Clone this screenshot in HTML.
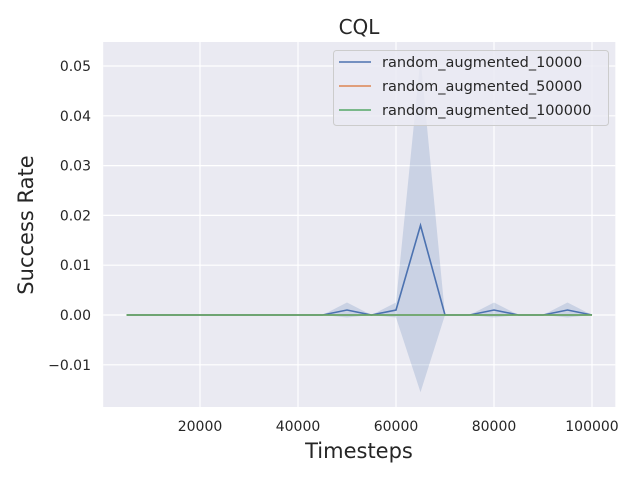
<!DOCTYPE html>
<html><head><meta charset="utf-8"><style>
body{margin:0;background:#fff;font-family:"DejaVu Sans","Liberation Sans",sans-serif}
svg text{font-family:"DejaVu Sans","Liberation Sans",sans-serif}
</style></head><body>
<svg id="chart" width="640" height="480" xmlns="http://www.w3.org/2000/svg">
<rect x="0" y="0" width="640" height="480" fill="#fff"/>
<rect x="103.2" y="42" width="512.1" height="365" fill="#eaeaf2"/>
<g id="grid"></g>
<g id="series"></g>
<g id="ticks"></g>
<text x="359" y="34" font-size="20" text-anchor="middle" fill="#262626">CQL</text>
<text x="359" y="458" font-size="21" text-anchor="middle" fill="#262626">Timesteps</text>
<text x="33" y="225" font-size="21" text-anchor="middle" fill="#262626" transform="rotate(-90 33 225)">Success Rate</text>
<g>
<rect x="333.5" y="50.5" width="275" height="75" rx="3" fill="#eaeaf2" fill-opacity="0.8" stroke="#cccccc"/>
<line x1="339" y1="62" x2="371" y2="62" stroke="#4c72b0" stroke-width="1.6"/>
<text x="382" y="67" font-size="14.5" fill="#262626">random_augmented_10000</text>
<line x1="339" y1="86" x2="371" y2="86" stroke="#dd8452" stroke-width="1.6"/>
<text x="382" y="91" font-size="14.5" fill="#262626">random_augmented_50000</text>
<line x1="339" y1="110" x2="371" y2="110" stroke="#55a868" stroke-width="1.6"/>
<text x="382" y="115" font-size="14.5" fill="#262626">random_augmented_100000</text>
</g>
</svg>
<script>
const steps=[5000,10000,15000,20000,25000,30000,35000,40000,45000,50000,55000,60000,65000,70000,75000,80000,85000,90000,95000,100000];
const mean10k=[0,0,0,0,0,0,0,0,0,0.001,0,0.001,0.018,0,0,0.001,0,0,0.001,0];
const std10k=[0,0,0,0,0,0,0,0,0,0.0015,0,0.0015,0.0335,0,0,0.0015,0,0,0.0015,0];
const mean50k=[0,0,0,0,0,0,0,0,0,0,0,0,0,0,0,0,0,0,0,0];
const mean100k=[0,0,0,0,0,0,0,0,0,0,0,0,0,0,0,0,0,0,0,0];
const xTicks=[20000,40000,60000,80000,100000];
const yTicks=[-0.01,0,0.01,0.02,0.03,0.04,0.05];
const yLabels=["\u22120.01","0.00","0.01","0.02","0.03","0.04","0.05"];
const NS="http://www.w3.org/2000/svg";
const X=v=>102+v*0.0049;
const Y=v=>315-v*4980;
function mk(t,a,p){const e=document.createElementNS(NS,t);for(const k in a)e.setAttribute(k,a[k]);p.appendChild(e);return e;}
const grid=document.getElementById('grid'),ticks=document.getElementById('ticks'),ser=document.getElementById('series');
xTicks.forEach(v=>{
 const l=mk('line',{x1:X(v),x2:X(v),y1:42,y2:407,stroke:'#fff','stroke-width':1.2},grid);
 
 
 const t=mk('text',{x:X(v),y:431,'font-size':14,'text-anchor':'middle',fill:'#262626'},ticks);
 t.textContent=v;
 
 
});
yTicks.forEach((v,i)=>{
 const l=mk('line',{x1:103.2,x2:615.3,y1:Y(v),y2:Y(v),stroke:'#fff','stroke-width':1.2},grid);
 
 
 const t=mk('text',{x:91,y:Y(v)+5,'font-size':14,'text-anchor':'end',fill:'#262626'},ticks);
 t.textContent=yLabels[i];
 
 
});
let up=steps.map((s,i)=>X(s)+','+Y(mean10k[i]+std10k[i]));
let dn=steps.map((s,i)=>X(s)+','+Y(mean10k[i]-std10k[i])).reverse();
const band=mk('polygon',{points:up.concat(dn).join(' '),fill:'#4c72b0','fill-opacity':0.2},ser);


function line(arr,c,name){
 const p=mk('polyline',{points:steps.map((s,i)=>X(s)+','+Y(arr[i])).join(' '),fill:'none',stroke:c,'stroke-width':1.6},ser);
 
 
}
line(mean10k,'#4c72b0','line-random-augmented-10000');
line(mean50k,'#dd8452','line-random-augmented-50000');
line(mean100k,'#55a868','line-random-augmented-100000');
</script>
</body></html>
